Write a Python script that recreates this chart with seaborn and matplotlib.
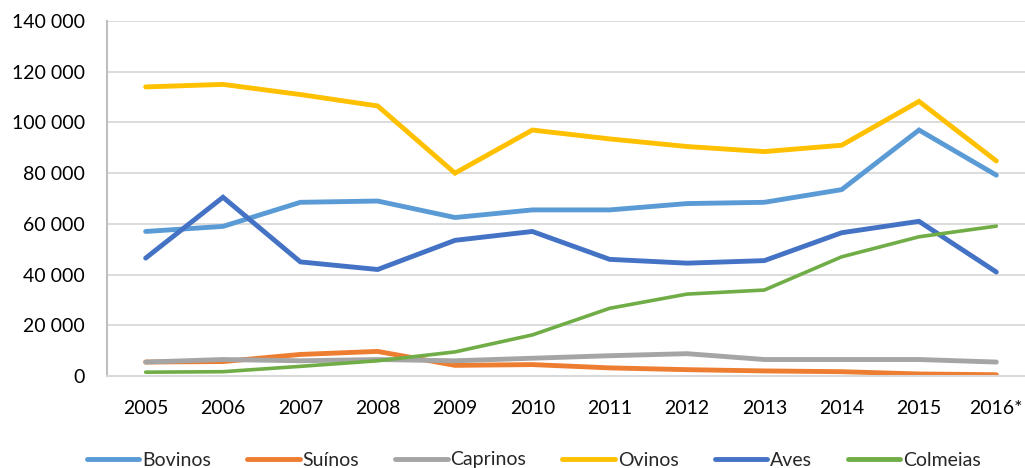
import pandas as pd
import matplotlib
matplotlib.use("Agg")
import matplotlib.pyplot as plt
import seaborn as sns

# values
anos = ["2005", "2006", "2007", "2008", "2009", "2010",
        "2011", "2012", "2013", "2014", "2015", "2016*"]
bovinos = [57000, 59000, 68500, 69000, 62500, 65500, 65500, 68000, 68500, 73500, 97000, 79200]
suinos = [5500, 5700, 8500, 9700, 4200, 4500, 3200, 2500, 2000, 1700, 800, 500]
caprinos = [5500, 6500, 6000, 6500, 6000, 7000, 8000, 8800, 6500, 6500, 6500, 5500]
ovinos = [114000, 115000, 111000, 106500, 80000, 97000, 93500, 90500, 88500, 91000, 108300, 84800]
aves = [46500, 70500, 45000, 42000, 53500, 57000, 46000, 44500, 45500, 56500, 61000, 41000]
colmeias = [1500, 1700, 3800, 6000, 9500, 16200, 26700, 32300, 33900, 47000, 54900, 59100]

series = {"Bovinos": bovinos, "Suínos": suinos, "Caprinos": caprinos,
          "Ovinos": ovinos, "Aves": aves, "Colmeias": colmeias}
cores = ["#5B9BD5", "#ED7D31", "#A5A5A5", "#FFC000", "#4472C4", "#70AD47"]
larguras = [3.5, 3.5, 3.5, 3.5, 3.5, 2.6]

rows = []
for nome, vals in series.items():
    for i, v in enumerate(vals):
        rows.append({"pos": i, "ano": anos[i], "valor": v, "serie": nome})
df = pd.DataFrame(rows)

sns.set_theme(style="white")
plt.rcParams["font.family"] = ["Lato", "DejaVu Sans"]

fig = plt.figure(figsize=(10.25, 4.68), dpi=100)
ax = fig.add_axes([107 / 1025, 1 - 376 / 468, 928 / 1025, 355 / 468])

sns.lineplot(data=df, x="pos", y="valor", hue="serie", palette=cores,
             ax=ax, legend=False, sort=False)
for line, lw in zip(ax.get_lines(), larguras):
    line.set_linewidth(lw)
    line.set_solid_capstyle("round")
    line.set_solid_joinstyle("miter")

ax.set_xlim(-0.5, 11.5)
ax.set_ylim(0, 140000)
ax.set_xticks(range(len(anos)))
ax.set_xticklabels(anos)
yt = list(range(0, 140001, 20000))
ax.set_yticks(yt)
ax.set_yticklabels([f"{v:,}".replace(",", " ") for v in yt])
ax.tick_params(axis="x", length=0, pad=17, labelsize=14, colors="#000000")
ax.tick_params(axis="y", length=0, pad=16, labelsize=14, colors="#000000")
ax.set_xlabel("")
ax.set_ylabel("")
ax.grid(axis="y", color="#D9D9D9", linewidth=1.3)
for s in ["top", "right"]:
    ax.spines[s].set_visible(False)
ax.spines["left"].set_color("#BFBFBF")
ax.spines["left"].set_linewidth(1.5)
ax.spines["bottom"].set_color("#D9D9D9")
ax.spines["bottom"].set_linewidth(1.5)

handles = [plt.Line2D([], [], color=c, linewidth=3.5) for c in cores]
fig.legend(handles, list(series.keys()), loc="center", ncol=6,
           bbox_to_anchor=(0.521, 8 / 468), frameon=False, fontsize=14,
           handlelength=2.7, handletextpad=0.15, columnspacing=1.85)

fig.savefig("out.png", dpi=100)
